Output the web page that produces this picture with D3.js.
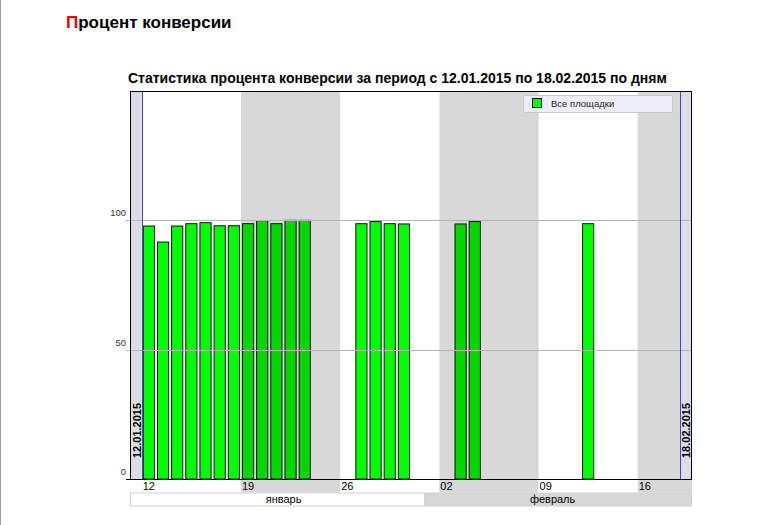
<!DOCTYPE html>
<html><head><meta charset="utf-8">
<script src="https://cdn.jsdelivr.net/npm/d3@7"></script>
<style>
html,body{margin:0;padding:0;background:#fff;}
svg{display:block;font-family:"Liberation Sans",Arial,sans-serif;}
</style></head>
<body>
<svg id="c" width="774" height="525"></svg>
<script>
// ---- data ----
const periodStart = "2015-01-12";
const periodEnd = "2015-02-18";
const dates = ["2015-01-12","2015-01-13","2015-01-14","2015-01-15","2015-01-16","2015-01-17","2015-01-18",
  "2015-01-19","2015-01-20","2015-01-21","2015-01-22","2015-01-23",
  "2015-01-27","2015-01-28","2015-01-29","2015-01-30",
  "2015-02-03","2015-02-04","2015-02-12"];
const values = [97.8,91.6,97.8,98.7,99.1,97.9,97.9,98.7,99.9,98.7,100,100,98.7,99.5,98.7,98.6,98.6,99.5,98.7];
const yTicks = [0,50,100];
const weekStarts = ["2015-01-12","2015-01-19","2015-01-26","2015-02-02","2015-02-09","2015-02-16"];
const weekLabels = ["12","19","26","02","09","16"];
const months = ["январь","февраль"];
const monthStarts = ["2015-01-01","2015-02-01"];
const seriesName = "Все площадки";
const pageTitle = "Процент конверсии";
const chartTitle = "Статистика процента конверсии за период с 12.01.2015 по 18.02.2015 по дням";

const parse = d3.utcParse("%Y-%m-%d");
const t0 = parse(periodStart), t1 = d3.utcDay.offset(parse(periodEnd), 1);
const svg = d3.select("#c");
const L = 130, R = 692, T = 91, B = 479;
const pad = 0.83 * 864e5;
const x = d3.scaleUtc().domain([new Date(+t0 - pad), new Date(+t1 + pad)]).range([L, R]);
const y = d3.scaleLinear().domain([0,150]).range([B, T]);

// page frame line
svg.append("line").attr("x1",0.5).attr("x2",0.5).attr("y1",0).attr("y2",525).attr("stroke","#999");

// page title
const pt = svg.append("text").attr("x",66).attr("y",28).attr("font-size",17).attr("font-weight","bold").attr("fill","#000");
pt.append("tspan").attr("fill","#e00").text(pageTitle[0]);
pt.append("tspan").text(pageTitle.slice(1));

// chart title
svg.append("text").attr("x",128).attr("y",83)
  .attr("font-size",14).attr("font-weight","bold").text(chartTitle);

// plot background
const plot = svg.append("g");
plot.append("rect").attr("x",L).attr("y",T).attr("width",R-L).attr("height",B-T).attr("fill","#dcdce6");
plot.append("rect").attr("x",x(t0)).attr("y",T).attr("width",x(t1)-x(t0)).attr("height",B-T).attr("fill","#fff");

// bars
const barData = dates.map((d,i)=>({t:parse(d), v:values[i]}));
plot.selectAll("rect.bar").data(barData).join("rect").attr("class","bar")
  .attr("x",d=>x(d.t)+1.5).attr("width",d=>x(d3.utcDay.offset(d.t,1))-x(d.t)-3)
  .attr("y",d=>y(d.v)).attr("height",d=>B-y(d.v))
  .attr("fill","#00ff00").attr("stroke","#111").attr("stroke-width",1);

// gray week overlays (alternate weeks)
const wk = weekStarts.map(parse);
wk.forEach((w,i)=>{
  if(i%2===1){
    const e = i+1<wk.length ? wk[i+1] : t1;
    plot.append("rect").attr("x",x(w)).attr("y",T).attr("width",x(e)-x(w)).attr("height",B-T)
      .attr("fill","#000").attr("fill-opacity",0.153);
  }
});

// gridlines
yTicks.filter(v=>v>0).forEach(v=>{
  plot.append("line").attr("x1",L-4).attr("x2",R).attr("y1",Math.round(y(v))+0.5).attr("y2",Math.round(y(v))+0.5)
    .attr("stroke","#b4b4b4").attr("stroke-width",1);
});

// period boundary lines
[t0,t1].forEach(t=>{
  plot.append("line").attr("x1",Math.round(x(t))+0.5).attr("x2",Math.round(x(t))+0.5).attr("y1",T).attr("y2",B)
    .attr("stroke","#4444cc").attr("stroke-width",1);
});
// boundary labels
[[t0,L+7,periodStart],[t1,R-6,periodEnd]].forEach(([t,xx,s])=>{
  const p = s.split("-");
  svg.append("text").attr("transform",`translate(${xx},458) rotate(-90)`).attr("font-size",11).attr("font-weight","bold")
    .attr("dominant-baseline","central").text(`${p[2]}.${p[1]}.${p[0]}`);
});

// plot border
svg.append("rect").attr("x",L+0.5).attr("y",T+0.5).attr("width",R-L-1).attr("height",B-T).attr("fill","none").attr("stroke","#000");

// y labels
yTicks.forEach(v=>{
  svg.append("text").attr("x",126).attr("y",y(v)-4).attr("text-anchor","end").attr("font-size",9.5).attr("fill","#333").text(v);
});
svg.append("line").attr("x1",L-4).attr("x2",R).attr("y1",B+0.5).attr("y2",B+0.5).attr("stroke","#000");

// week label row
const rowY = B+1, rowH = 12.5;
wk.forEach((w,i)=>{
  const s = i===0 ? new Date(+t0 - pad) : w;
  const e = i+1<wk.length ? wk[i+1] : new Date(+t1 + pad);
  svg.append("rect").attr("x",x(s)).attr("y",rowY).attr("width",x(e)-x(s)).attr("height",rowH)
    .attr("fill", i%2 ? "#d8d8d8" : "#fff");
  svg.append("text").attr("x",x(w)+1).attr("y",rowY+10).attr("font-size",11).attr("fill","#000").text(weekLabels[i]);
});
// month row
const mY = rowY+rowH, mH = 13;
const ms = monthStarts.map(parse);
ms.forEach((m,i)=>{
  const s = i===0 ? new Date(+t0 - pad) : m;
  const e = i+1<ms.length ? ms[i+1] : new Date(+t1 + pad);
  svg.append("rect").attr("x",x(s)+0.5).attr("y",mY+0.5).attr("width",x(e)-x(s)-1).attr("height",mH)
    .attr("fill", i%2 ? "#d8d8d8" : "#fff").attr("stroke","#cfcfcf");
  svg.append("text").attr("x",(x(s)+x(e))/2 + (i===0?6:-6)).attr("y",mY+10).attr("text-anchor","middle")
    .attr("font-size",11).text(months[i]);
});

// legend
const lg = svg.append("g");
lg.append("rect").attr("x",523.5).attr("y",95.5).attr("width",149).attr("height",17).attr("fill","#eeeefa").attr("stroke","#c8c8d0");
lg.append("rect").attr("x",532.5).attr("y",98.5).attr("width",9).attr("height",9).attr("fill","#00ff00").attr("stroke","#111");
lg.append("text").attr("x",551).attr("y",107).attr("font-size",9.5).attr("fill","#222").text(seriesName);
</script>
</body></html>
